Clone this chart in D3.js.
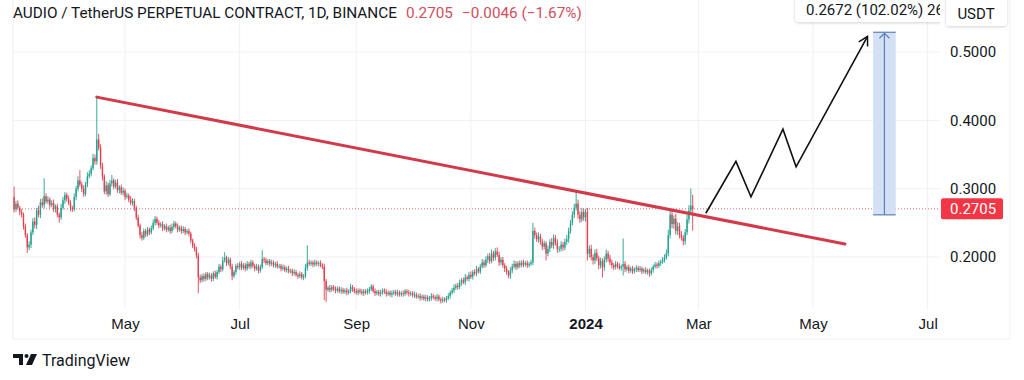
<!DOCTYPE html>
<html><head><meta charset="utf-8">
<script src="https://cdn.jsdelivr.net/npm/d3@7"></script>
<style>
body{margin:0;background:#fff;}
svg{display:block;font-family:Roboto,"Noto Sans",sans-serif;}
</style>
</head><body>
<svg id="c" width="1024" height="380"></svg>
<script>
// ---------- DATA ----------
const startDate = "2023-03-03";          // first daily candle
const firstOpen = 0.288;
const closes = [
0.270,0.278,0.272,0.266,0.262,0.245,0.232,0.214,0.218,0.236,
0.252,0.247,0.268,0.262,0.280,0.276,0.289,0.281,0.284,0.276,
0.279,0.270,0.274,0.262,0.258,0.272,0.283,0.291,0.285,0.279,
0.272,0.270,0.288,0.300,0.312,0.306,0.300,0.292,0.306,0.318,
0.322,0.330,0.345,0.340,0.372,
0.360,0.334,0.318,0.296,0.305,0.292,0.308,0.312,0.303,0.309,
0.298,0.302,0.294,0.297,0.288,0.290,0.284,0.279,0.282,0.272,
0.258,0.246,0.232,0.228,0.238,0.233,0.240,0.236,0.242,0.250,
0.256,0.250,0.246,0.248,0.242,0.245,0.240,0.243,0.238,0.244,
0.249,0.245,0.240,0.243,0.238,0.241,0.236,0.238,0.234,0.224,
0.216,0.212,0.202,0.170,
0.166,0.172,0.168,0.175,0.170,0.173,0.168,0.176,0.171,0.178,
0.186,0.182,0.195,0.199,0.191,0.196,0.186,0.172,0.178,0.187,
0.185,0.190,0.184,0.188,0.183,0.190,0.186,0.192,0.187,0.183,
0.186,0.180,0.185,0.197,0.195,0.191,0.194,0.190,0.192,0.188,
0.190,0.186,0.187,0.183,0.185,0.181,0.183,0.179,0.180,0.176,
0.178,0.174,0.172,0.175,0.170,0.172,0.184,0.192,0.190,0.192,
0.189,0.192,0.190,0.191,0.188,0.186,0.165,0.152,0.155,0.152,
0.156,0.153,0.151,0.154,0.150,0.152,0.149,0.151,0.148,0.150,
0.156,0.153,0.150,0.148,0.151,0.149,0.147,0.150,0.148,0.150,
0.153,0.157,0.150,0.147,0.149,0.146,0.148,0.151,0.149,0.146,
0.148,0.145,0.147,0.149,0.146,0.148,0.145,0.147,0.146,0.150,
0.148,0.146,0.147,0.144,0.145,0.142,0.143,0.140,0.142,0.139,
0.141,0.138,0.140,0.143,0.141,0.139,0.142,0.138,0.136,0.138,
0.137,0.140,0.143,0.148,0.151,0.155,0.158,0.156,0.162,0.166,
0.163,0.170,0.168,0.174,0.171,0.178,0.176,0.182,0.179,0.186,
0.192,0.188,0.196,0.201,0.194,0.205,0.199,0.208,0.203,0.192,
0.196,0.188,0.183,0.178,0.173,0.180,0.186,0.190,0.185,0.191,
0.188,0.192,0.189,0.191,0.188,0.190,0.192,0.238,0.232,0.226,
0.230,0.222,0.215,0.220,0.205,0.212,0.222,0.217,0.228,0.221,
0.212,0.212,0.218,0.214,0.222,0.226,0.238,0.250,0.262,0.272,
0.278,0.262,0.255,0.266,0.258,0.266,0.205,0.212,0.200,0.195,
0.206,0.198,0.188,0.194,0.185,0.196,0.205,0.198,0.192,0.188,
0.185,0.190,0.187,0.184,0.186,0.190,0.182,0.185,0.180,0.183,
0.179,0.182,0.184,0.181,0.183,0.179,0.181,0.178,0.180,0.176,
0.181,0.186,0.189,0.187,0.191,0.193,0.196,0.199,0.205,0.232,
0.262,0.248,0.256,0.238,0.245,0.232,0.228,0.223,0.236,0.255,
0.268,0.2751,0.2705
];
// wick lengths above / below the body, in 0.001 USDT
const upperWick = [
15,4,5,3,4,3,4,3,5,4, 5,6,4,7,5,6,26,4,5,3, 4,5,3,4,3,6,5,4,3,5, 4,3,5,4,6,15,4,5,4,6,
5,4,6,5,62,8,5,4,3,6, 4,5,8,3,4,5,3,4,5,3, 4,3,5,4,3,3,4,3,5,4, 3,4,3,4,5,4,3,4,3,4,
3,4,3,4,5,4,3,4,3,3, 4,3,3,4,3,3,4,3,4,4, 3,4,3,3,4,3,3,4,3,4, 3,5,8,3,4,3,4,3,3,4,
3,4,3,3,4,3,4,3,3,4, 3,4,13,3,4,3,3,4,3,3, 4,3,3,4,3,3,4,3,3,4, 3,3,4,3,3,6,25,4,3,3,
4,3,3,4,3,4,3,3,4,3, 3,4,3,3,4,3,3,4,3,5, 3,3,4,3,3,4,3,3,4,3, 3,3,4,3,3,4,3,3,4,3,
3,4,3,3,4,3,3,4,3,3, 4,3,3,4,3,3,4,3,3,4, 3,3,4,3,3,4,3,3,4,3, 3,4,3,4,5,3,4,5,3,4,
5,3,4,5,3,4,5,3,4,5, 4,5,4,5,6,4,5,6,5,4, 4,3,4,3,5,4,5,4,3,4, 3,4,3,4,3,4,12,5,4,6,
4,5,4,3,5,4,6,5,4,5, 4,5,4,5,6,5,4,5,6,17, 6,5,6,5,4,6,5,6,4,5, 6,4,5,4,5,6,4,5,4,3,
4,3,4,3,37,4,3,4,3,4, 3,4,3,4,3,3,4,3,3,4, 3,4,3,4,3,4,5,6,8,6, 6,5,7,6,5,6,4,5,7,8,
25,16
];
const lowerWick = [
5,4,3,5,4,5,4,8,4,5, 4,5,6,4,5,4,5,3,4,5, 3,4,5,4,8,4,3,5,4,3, 5,4,3,5,4,3,5,4,3,4,
3,4,3,5,5,4,5,6,4,5, 4,3,5,4,3,4,5,3,4,5, 3,4,3,4,5,4,3,5,4,3, 4,3,4,3,3,4,3,4,3,4,
3,4,3,4,3,4,3,4,3,4, 3,4,3,4,4,3,4,4,23,4, 3,4,3,4,3,4,3,3,4,3, 4,3,3,4,3,4,6,3,4,3,
4,3,3,4,3,3,4,3,4,3, 4,3,3,4,3,3,4,3,3,4, 3,3,4,3,3,4,3,3,4,3, 3,4,3,3,4,3,4,3,3,4,
3,3,4,3,4,28,18,3,4,3, 3,4,3,3,4,3,3,4,3,3, 4,3,3,4,3,3,4,3,3,4, 3,3,4,3,3,4,3,3,4,3,
3,4,3,3,4,3,3,4,3,3, 4,3,3,4,3,3,4,3,3,4, 3,3,4,3,3,4,3,4,3,3, 4,3,4,3,4,3,4,3,4,3,
4,3,4,3,4,3,4,3,4,3, 4,3,5,4,3,5,4,3,5,4, 4,5,4,4,5,4,3,4,3,4, 3,4,3,4,3,3,4,5,4,5,
4,5,4,10,4,5,4,5,4,6, 5,4,5,4,4,5,4,4,5,4, 6,5,4,5,6,10,6,5,6,5, 4,6,5,15,5,4,5,4,5,4,
3,4,3,4,13,4,3,4,3,4, 3,4,3,3,4,3,3,4,5,3, 4,3,4,3,4,3,4,3,4,5, 6,7,5,6,5,4,6,5,4,6,
5,32
];
const lastPrice = 0.2705;
const priceTicks = [0.2, 0.3, 0.4, 0.5];
const timeTickDates  = ["2023-05-01","2023-07-01","2023-09-01","2023-11-01","2024-01-01","2024-03-01","2024-05-01","2024-07-01"];
const timeTickLabels = ["May","Jul","Sep","Nov","2024","Mar","May","Jul"];
const trendDates  = ["2023-04-16","2024-05-18"];
const trendPrices = [0.434, 0.219];
const pathDates  = ["2024-03-05","2024-03-21","2024-03-29","2024-04-15","2024-04-22","2024-05-30"];
const pathPrices = [0.264, 0.340, 0.288, 0.387, 0.332, 0.523];
const measureDates  = ["2024-06-02","2024-06-14"];
const measurePrices = [0.2617, 0.5289];
const measureLabel = "0.2672 (102.02%) 2672";
const titleText = "AUDIO / TetherUS PERPETUAL CONTRACT, 1D, BINANCE";
const titlePrice = "0.2705";
const titleChange = "\u22120.0046 (\u22121.67%)";

// ---------- LAYOUT ----------
const svg = d3.select("#c");
const paneL = 13, paneR = 940, paneT = 0, paneB = 310, axisR = 1010, bottomLine = 339;
const UP = "#22a08e", DOWN = "#e0404f";
const x = d3.scaleUtc().domain([new Date("2023-05-01"), new Date("2024-05-01")]).range([125, 813]);
const y = d3.scaleLinear().domain([0.2, 0.5]).range([257, 52]);
const day = d => d3.utcDay.offset(new Date(startDate), d);

svg.append("rect").attr("width",1024).attr("height",380).attr("fill","#fff");

const defs = svg.append("defs");
defs.append("clipPath").attr("id","pane").append("rect")
  .attr("x",paneL).attr("y",paneT).attr("width",paneR-paneL).attr("height",paneB-paneT);
const sh = defs.append("filter").attr("id","shadow").attr("x","-10%").attr("y","-30%").attr("width","120%").attr("height","180%");
sh.append("feDropShadow").attr("dx",0).attr("dy",1).attr("stdDeviation",1.5).attr("flood-color","#000").attr("flood-opacity",0.18);
defs.append("marker").attr("id","arr").attr("viewBox","0 0 12 12").attr("refX",10).attr("refY",6)
  .attr("markerWidth",12).attr("markerHeight",12).attr("markerUnits","userSpaceOnUse").attr("orient","auto")
  .append("path").attr("d","M1,1 L10,6 L1,11").attr("fill","none").attr("stroke","#111").attr("stroke-width",1.5);
defs.append("marker").attr("id","marrow").attr("viewBox","0 0 12 12").attr("refX",6).attr("refY",1)
  .attr("markerWidth",12).attr("markerHeight",12).attr("markerUnits","userSpaceOnUse").attr("orient","0")
  .append("path").attr("d","M1,6 L6,1 L11,6").attr("fill","none").attr("stroke","#5d7fb8").attr("stroke-width",1.2);

// grid
const grid = svg.append("g");
grid.selectAll("line.h").data(priceTicks).join("line")
  .attr("x1",paneL).attr("x2",paneR).attr("y1",d=>y(d)).attr("y2",d=>y(d))
  .attr("stroke","#eef0f4").attr("stroke-width",1);
grid.selectAll("line.v").data(timeTickDates).join("line")
  .attr("x1",d=>x(new Date(d))).attr("x2",d=>x(new Date(d))).attr("y1",paneT).attr("y2",paneB)
  .attr("stroke","#eef0f4").attr("stroke-width",1);

// borders
svg.append("line").attr("x1",paneL).attr("x2",paneL).attr("y1",0).attr("y2",bottomLine).attr("stroke","#eceef2");
svg.append("line").attr("x1",paneL).attr("x2",axisR).attr("y1",bottomLine).attr("y2",bottomLine).attr("stroke","#eceef2");
svg.append("line").attr("x1",axisR).attr("x2",axisR).attr("y1",0).attr("y2",bottomLine).attr("stroke","#f1f2f5");

const pane = svg.append("g").attr("clip-path","url(#pane)");

// last price dotted line
pane.append("line").attr("x1",paneL).attr("x2",paneR).attr("y1",y(lastPrice)).attr("y2",y(lastPrice))
  .attr("stroke","#d9707b").attr("stroke-dasharray","1,2").attr("stroke-width",1);

// candles
const candles = closes.map((c,i)=>{
  const o = i===0 ? firstOpen : closes[i-1];
  return {d: day(i), o, c, h: Math.max(o,c)+upperWick[i]/1000, l: Math.min(o,c)-lowerWick[i]/1000};
});
const cg = pane.append("g");
cg.selectAll("line").data(candles).join("line")
  .attr("x1",d=>x(d.d)).attr("x2",d=>x(d.d)).attr("y1",d=>y(d.h)).attr("y2",d=>y(d.l))
  .attr("stroke",d=>d.c>=d.o?UP:DOWN).attr("stroke-width",0.9);
cg.selectAll("rect").data(candles).join("rect")
  .attr("x",d=>x(d.d)-0.7).attr("width",1.4)
  .attr("y",d=>y(Math.max(d.o,d.c))).attr("height",d=>Math.max(0.8,Math.abs(y(d.o)-y(d.c))))
  .attr("fill",d=>d.c>=d.o?UP:DOWN);

// trend line
pane.append("line")
  .attr("x1",x(new Date(trendDates[0]))).attr("y1",y(trendPrices[0]))
  .attr("x2",x(new Date(trendDates[1]))).attr("y2",y(trendPrices[1]))
  .attr("stroke","#d23a4a").attr("stroke-width",3).attr("stroke-linecap","round");

// projected path
const pathPts = pathDates.map((d,i)=>[x(new Date(d)), y(pathPrices[i])]);
pane.append("path").attr("d", d3.line()(pathPts)).attr("fill","none")
  .attr("stroke","#111").attr("stroke-width",1.6).attr("stroke-linejoin","miter").attr("marker-end","url(#arr)");

// measure tool
const mx0 = x(new Date(measureDates[0])), mx1 = x(new Date(measureDates[1]));
const my0 = y(measurePrices[0]), my1 = y(measurePrices[1]);
pane.append("rect").attr("x",mx0).attr("y",my1).attr("width",mx1-mx0).attr("height",my0-my1)
  .attr("fill","#d3e0f6");
pane.append("line").attr("x1",mx0).attr("x2",mx1).attr("y1",my0).attr("y2",my0).attr("stroke","#5d7fb8").attr("stroke-width",1.2);
pane.append("line").attr("x1",mx0).attr("x2",mx1).attr("y1",my1).attr("y2",my1).attr("stroke","#5d7fb8").attr("stroke-width",1.2);
pane.append("line").attr("x1",(mx0+mx1)/2).attr("x2",(mx0+mx1)/2).attr("y1",my0).attr("y2",my1+1)
  .attr("stroke","#5d7fb8").attr("stroke-width",1.2).attr("marker-end","url(#marrow)");
const lblG = pane.append("g");
lblG.append("rect").attr("x",795).attr("y",-4).attr("width",200).attr("height",26).attr("rx",4)
  .attr("fill","#fff").attr("filter","url(#shadow)");
lblG.append("text").attr("x",806).attr("y",15).attr("font-size",15).attr("fill","#131722").text(measureLabel);

// price axis
const yAxis = svg.append("g").attr("transform",`translate(${paneR},0)`)
  .call(d3.axisRight(y).tickValues(priceTicks).tickFormat(d3.format(".4f")).tickSize(0).tickPadding(10));
yAxis.select(".domain").remove();
yAxis.selectAll("text").attr("font-size",15).attr("fill","#131722").attr("font-family","Roboto, sans-serif");

// last price label
svg.append("rect").attr("x",941).attr("y",y(lastPrice)-10.5).attr("width",62).attr("height",21).attr("rx",2).attr("fill","#f23645");
svg.append("text").attr("x",950).attr("y",y(lastPrice)+5.5).attr("font-size",15).attr("fill","#fff").text(d3.format(".4f")(lastPrice));

// USDT box
svg.append("rect").attr("x",946).attr("y",-4).attr("width",61).attr("height",30).attr("rx",4)
  .attr("fill","#fff").attr("filter","url(#shadow)");
svg.append("text").attr("x",976).attr("y",19).attr("text-anchor","middle").attr("font-size",15).attr("fill","#131722").text("USDT");

// time axis
const xAxis = svg.append("g").attr("transform",`translate(0,${paneB})`)
  .call(d3.axisBottom(x).tickValues(timeTickDates.map(d=>new Date(d)))
    .tickFormat((d,i)=>timeTickLabels[i]).tickSize(0).tickPadding(5));
xAxis.select(".domain").remove();
xAxis.selectAll("text").attr("font-size",15).attr("fill","#131722").attr("dy","0.9em")
  .attr("font-weight",(d,i)=>timeTickLabels[i]==="2024"?"bold":"normal");

// title
const t = svg.append("text").attr("x",13).attr("y",18).attr("font-size",15.3).attr("fill","#131722");
t.append("tspan").text(titleText);
t.append("tspan").attr("dx",9).attr("fill","#d05060").text(titlePrice);
t.append("tspan").attr("dx",9).attr("fill","#d05060").text(titleChange);

// TradingView logo
const logo = svg.append("g").attr("transform","translate(13,354)");
logo.append("path").attr("d","M0,0 H10 V11 H6 V4 H0 Z").attr("fill","#131722");
logo.append("circle").attr("cx",13.5).attr("cy",2).attr("r",2).attr("fill","#131722");
logo.append("path").attr("d","M18,0 H24 L19,11 H13 Z").attr("fill","#131722");
svg.append("text").attr("x",42).attr("y",366).attr("font-size",16).attr("fill","#131722").text("TradingView");
</script>
</body></html>
